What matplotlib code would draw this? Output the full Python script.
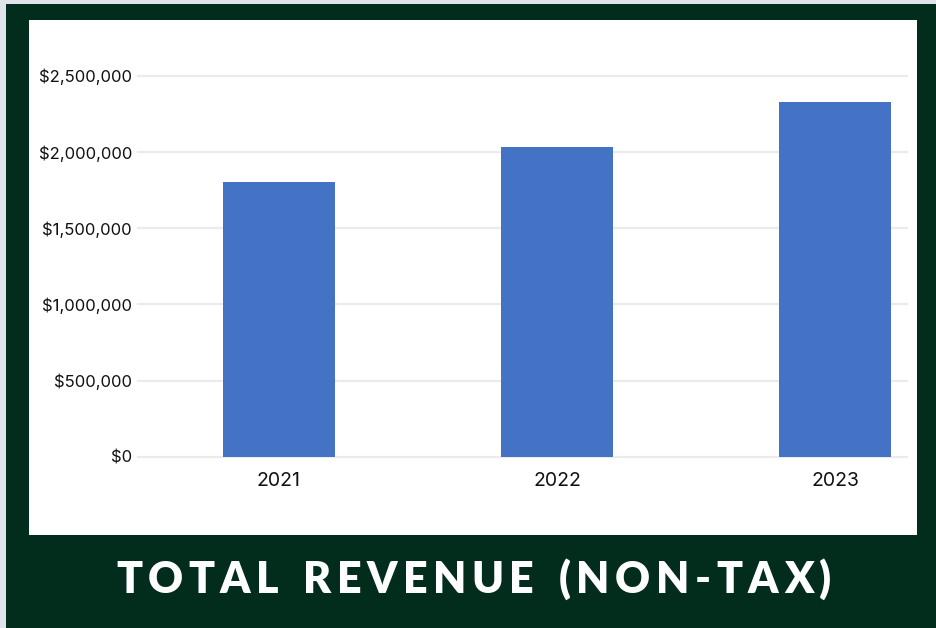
import matplotlib
matplotlib.use("Agg")
import matplotlib.pyplot as plt
from matplotlib.patches import Rectangle
from matplotlib.ticker import FuncFormatter

# ---- data ----
years = ["2021", "2022", "2023"]
revenue = [1805000, 2035000, 2330000]
yticks = [0, 500000, 1000000, 1500000, 2000000, 2500000]
title = "TOTAL REVENUE (NON-TAX)"

W, H = 937, 628
DPI = 100
fig = plt.figure(figsize=(W / DPI, H / DPI), dpi=DPI)
fig.patch.set_facecolor("#e0e3ea")

def px_rect(x0, y0, x1, y1, color, z):
    fig.patches.append(Rectangle((x0 / W, 1 - y1 / H), (x1 - x0) / W, (y1 - y0) / H,
                                 transform=fig.transFigure, facecolor=color,
                                 edgecolor="none", zorder=z))

px_rect(6, 4, W, H, "#022c1b", 0)
px_rect(29, 20, 917, 535, "#ffffff", 1)

ax_l, ax_r, ax_t, ax_b = 138, 907, 75.7, 457
ax = fig.add_axes([ax_l / W, 1 - ax_b / H, (ax_r - ax_l) / W, (ax_b - ax_t) / H])
ax.set_facecolor("none")
ax.set_zorder(2)

x = list(range(len(years)))
ax.bar(x, revenue, width=0.403, color="#4472c4", zorder=3)
ax.set_xlim(-0.507, 2.259)
ax.set_ylim(0, 2500000)
ax.set_yticks(yticks)
ax.yaxis.set_major_formatter(FuncFormatter(lambda v, p: "${:,.0f}".format(v)))
ax.set_xticks(x)
ax.set_xticklabels(years)
ax.grid(axis="y", color="#ebebeb", linewidth=1.6, zorder=1)
for gl in ax.get_ygridlines():
    gl.set_clip_on(False)
for s in ax.spines.values():
    s.set_visible(False)
ax.tick_params(axis="both", length=0)
ax.tick_params(axis="y", pad=4.3, labelsize=12, labelcolor="#111111")
ax.tick_params(axis="x", pad=10.5, labelsize=14, labelcolor="#111111")
for lab in ax.get_yticklabels() + ax.get_xticklabels():
    lab.set_family(["Inter", "DejaVu Sans"])

# ---- letter-spaced title ----
renderer = fig.canvas.get_renderer()
fs = 31
props = dict(fontsize=fs, fontweight="heavy", family=["Lato", "DejaVu Sans"], color="white")
widths = []
for ch in title:
    if ch == " ":
        widths.append(None)
        continue
    t = fig.text(0, 0, ch, **props)
    widths.append(t.get_window_extent(renderer).width)
    t.remove()
space_w = 14
x_start, x_end = 116, 831
total_chars = sum(w if w is not None else space_w for w in widths)
gap = (x_end - x_start - total_chars) / (len(title) - 1)
cx = x_start
for ch, w in zip(title, widths):
    if ch == " ":
        cx += space_w + gap
        continue
    fig.text(cx / W, 1 - 593 / H, ch, ha="left", va="baseline", zorder=5, **props)
    cx += w + gap

fig.savefig("out.png", dpi=DPI, facecolor=fig.get_facecolor())
